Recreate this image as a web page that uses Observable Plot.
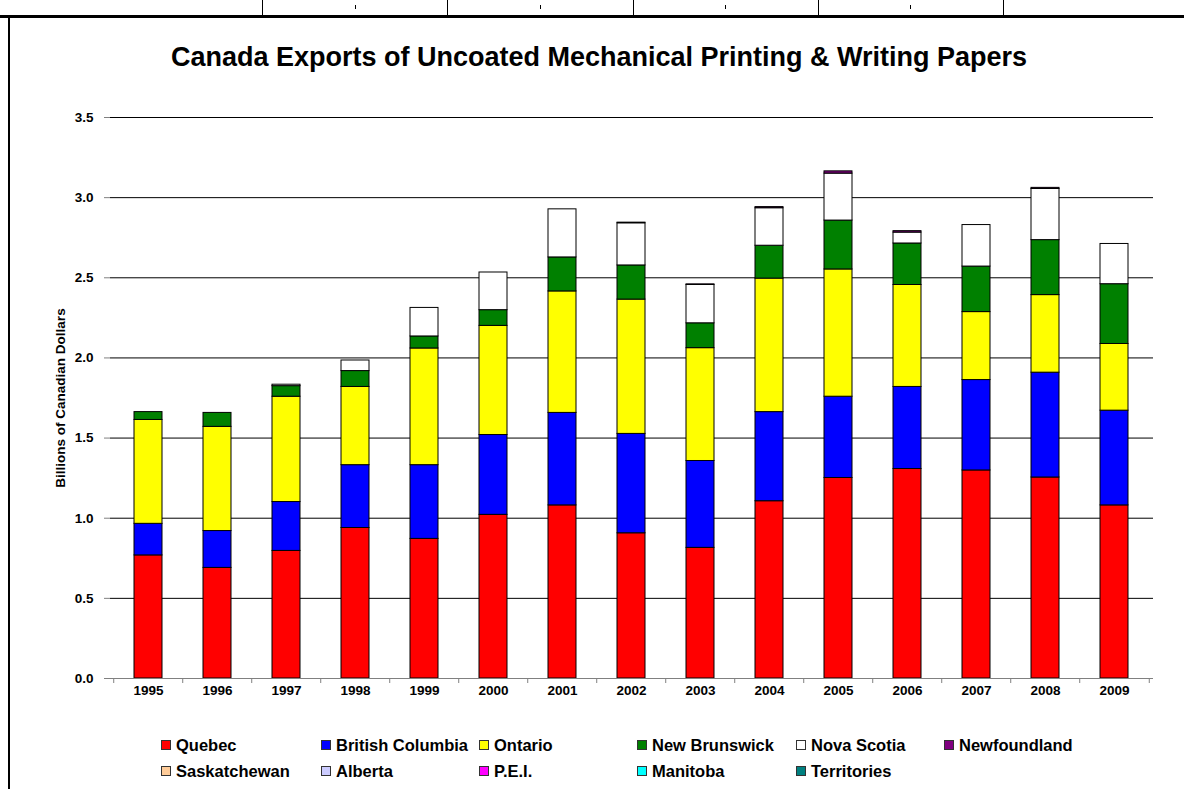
<!DOCTYPE html>
<html>
<head>
<meta charset="utf-8">
<script src="https://cdn.jsdelivr.net/npm/d3@7"></script>
<script src="https://cdn.jsdelivr.net/npm/@observablehq/plot@0.6"></script>
<style>
  html, body { margin: 0; padding: 0; background: #fff; }
  body { font-family: "Liberation Sans", Arial, sans-serif; }
  #wrap { position: relative; width: 1184px; height: 789px; overflow: hidden; background: #fff; }
  .hline { position: absolute; left: 0; top: 15px; width: 1184px; height: 3px; background: #000; }
  .vborder { position: absolute; left: 8px; top: 15px; width: 2px; height: 780px; background: #000; }
  .cell { position: absolute; top: 0; width: 1px; height: 15px; background: #000; }
  .mark { position: absolute; top: 5px; width: 1px; height: 4px; background: #000; }
  #title { position: absolute; left: 9px; width: 1180px; top: 40px; text-align: center;
           font-weight: bold; font-size: 27px; line-height: 34px; color: #000; }
  #chart { position: absolute; left: 0; top: 90px; }
  #legend { position: absolute; left: 0; top: 0; width: 1184px; height: 789px; pointer-events: none; }
  .item { position: absolute; display: flex; align-items: center; font-weight: bold; font-size: 16.5px; color: #000; white-space: nowrap; }
  .sw { width: 10px; height: 10px; border: 1px solid #333; margin-right: 5px; box-sizing: border-box; }
</style>
</head>
<body>
<div id="wrap">
  <div class="hline"></div>
  <div class="vborder"></div>
  <div class="cell" style="left:262px"></div>
  <div class="cell" style="left:447px"></div>
  <div class="cell" style="left:633px"></div>
  <div class="cell" style="left:818px"></div>
  <div class="cell" style="left:1003px"></div>
  <div class="mark" style="left:355px"></div>
  <div class="mark" style="left:540px"></div>
  <div class="mark" style="left:725px"></div>
  <div class="mark" style="left:910px"></div>
  <div id="title">Canada Exports of Uncoated Mechanical Printing &amp; Writing Papers</div>
  <div id="chart"></div>
  <div id="legend"></div>
</div>
<script>
// ---- Data (billions of Canadian dollars) ----
const years = ["1995","1996","1997","1998","1999","2000","2001","2002","2003","2004","2005","2006","2007","2008","2009"];
const provinces = ["Quebec","British Columbia","Ontario","New Brunswick","Nova Scotia","Newfoundland",
                   "Saskatchewan","Alberta","P.E.I.","Manitoba","Territories"];
const colors = ["#FF0000","#0000FF","#FFFF00","#008000","#FFFFFF","#800080",
                "#FFCC99","#CCCCFF","#FF00FF","#00FFFF","#008080"];

const quebec          = [0.768,0.690,0.796,0.939,0.871,1.021,1.080,0.906,0.815,1.106,1.251,1.307,1.298,1.254,1.080];
const britishColumbia = [0.197,0.230,0.305,0.392,0.460,0.498,0.577,0.620,0.542,0.556,0.507,0.512,0.564,0.654,0.591];
const ontario         = [0.648,0.650,0.657,0.488,0.728,0.681,0.758,0.838,0.704,0.833,0.794,0.636,0.424,0.484,0.416];
const newBrunswick    = [0.049,0.087,0.066,0.099,0.075,0.098,0.212,0.213,0.155,0.205,0.305,0.259,0.284,0.343,0.373];
const novaScotia      = [0.000,0.000,0.009,0.066,0.178,0.235,0.300,0.263,0.239,0.234,0.293,0.068,0.259,0.319,0.251];
const newfoundland    = [0.000,0.000,0.000,0.000,0.000,0.000,0.000,0.004,0.004,0.007,0.014,0.009,0.000,0.007,0.000];
const saskatchewan    = [0,0,0,0,0,0,0,0,0,0,0,0,0,0,0];
const alberta         = [0,0,0,0,0,0,0,0,0,0,0,0,0,0,0];
const pei             = [0,0,0,0,0,0,0,0,0,0,0,0,0,0,0];
const manitoba        = [0,0,0,0,0,0,0,0,0,0,0,0,0,0,0];
const territories     = [0,0,0,0,0,0,0,0,0,0,0,0,0,0,0];
const yTicks = [0,0.5,1.0,1.5,2.0,2.5,3.0,3.5];
const yLabel = "Billions of Canadian Dollars";

const series = [quebec, britishColumbia, ontario, newBrunswick, novaScotia, newfoundland,
                saskatchewan, alberta, pei, manitoba, territories];
const data = provinces.flatMap((p, i) => years.map((y, j) => ({year: y, province: p, value: series[i][j]})))
                      .filter(d => d.value > 0);

const W = 1184, ML = 110, MR = 31;
const step = (W - ML - MR) / years.length;
const font = "'Liberation Sans', Arial, sans-serif";

const chart = Plot.plot({
  width: W,
  height: 620,
  marginLeft: ML,
  marginRight: MR,
  marginTop: 27,
  marginBottom: 32,
  style: {fontFamily: font, fontSize: "13.5px", fontWeight: "bold", color: "#000", background: "transparent", overflow: "visible"},
  x: {domain: years, paddingInner: 0.59, paddingOuter: 0.295, label: null},
  y: {domain: [0, 3.5], label: null},
  color: {domain: provinces, range: colors},
  marks: [
    Plot.ruleY(yTicks.filter(d => d > 0), {stroke: "#000", strokeWidth: 1}),
    Plot.barY(data, {x: "year", y: "value", fill: "province", stroke: "#000", strokeWidth: 1}),
    Plot.ruleY([0], {stroke: "#808080", strokeWidth: 1}),
    Plot.axisY({ticks: yTicks, tickFormat: d3.format(".1f"), tickSize: 6, tickPadding: 11, line: true,
                stroke: "#808080", fill: "#000", fontSize: 13.5, fontWeight: "bold", label: null}),
    Plot.axisX({tickSize: 0, tickPadding: 7, fontSize: 13.5, fontWeight: "bold", fill: "#000", label: null}),
    Plot.axisX({tickSize: 5, tickFormat: () => "", dx: -step / 2, label: null, stroke: "#808080"}),
    Plot.axisX({ticks: [years[years.length - 1]], tickSize: 5, tickFormat: () => "", dx: step / 2, label: null, stroke: "#808080"}),
    Plot.text([yLabel], {frameAnchor: "left", textAnchor: "middle", dx: -50, rotate: -90,
                         fontSize: 13.5, fontWeight: "bold", fill: "#000"})
  ]
});
document.getElementById("chart").appendChild(chart);

// ---- Legend (two rows, fixed columns as in the original) ----
const color = chart.scale("color");
const legend = document.getElementById("legend");
const colX = [161, 321, 479, 637, 796, 944];
const rowY = [745, 771];
provinces.forEach((p, i) => {
  const r = i < 6 ? 0 : 1;
  const c = i < 6 ? i : i - 6;
  const item = document.createElement("div");
  item.className = "item";
  item.style.left = colX[c] + "px";
  item.style.top = (rowY[r] - 9) + "px";
  item.style.height = "18px";
  const sw = document.createElement("div");
  sw.className = "sw";
  sw.style.background = color.apply(p);
  const tx = document.createElement("span");
  tx.textContent = p;
  item.appendChild(sw);
  item.appendChild(tx);
  legend.appendChild(item);
});
</script>
</body>
</html>
